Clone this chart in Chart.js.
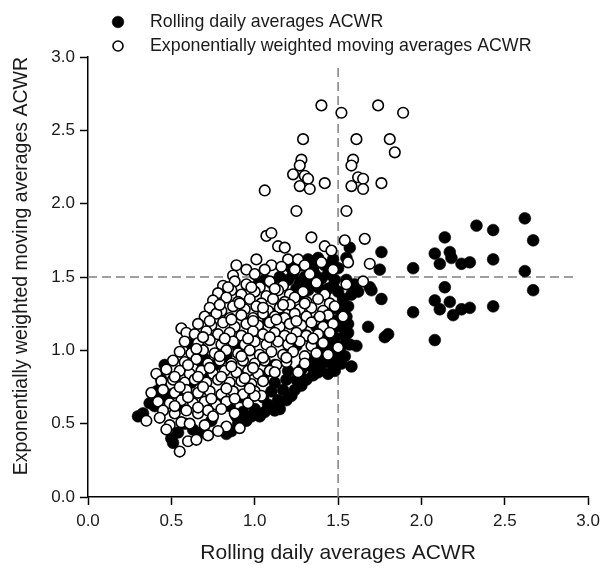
<!DOCTYPE html>
<html><head><meta charset="utf-8">
<script src="https://cdn.jsdelivr.net/npm/chart.js@4.4.1/dist/chart.umd.min.js"></script>
<style>html,body{margin:0;padding:0;background:#fff;}#wrap{width:606px;height:570px;position:relative;}</style>
</head><body><div id="wrap"><canvas id="c" width="606" height="570"></canvas></div>
<script>
const seriesNames = ['Rolling daily averages ACWR', 'Exponentially weighted moving averages ACWR'];
const xTitle = 'Rolling daily averages ACWR';
const yTitle = 'Exponentially weighted moving averages ACWR';
const axisMin = 0, axisMax = 3, axisStep = 0.5;
const cutoff = 1.5;
const refLineEnd = 2.93;

// Rolling daily averages ACWR (filled)
const rollingPoints = [
[2.62,1.90],[2.33,1.85],[2.43,1.82],[2.67,1.75],[2.14,1.77],[1.76,1.67],[2.08,1.66],[2.17,1.67],[2.18,1.63],[2.11,1.59],
[2.24,1.59],[2.29,1.60],[2.43,1.62],[1.75,1.55],[1.95,1.56],[2.62,1.54],[2.67,1.41],[2.14,1.43],[1.76,1.35],[2.08,1.34],
[2.17,1.33],[2.11,1.28],[2.19,1.24],[2.24,1.28],[2.29,1.29],[2.43,1.30],[1.95,1.26],[1.78,1.09],[1.80,1.11],[2.08,1.07],
[1.57,1.70],[1.69,1.43],[1.70,1.41],[1.68,1.16],[1.61,1.03],[1.58,0.89],[1.56,1.12],[1.55,1.48],[1.60,1.45],[1.62,1.40],[1.55,1.63],
[0.30,0.55],[0.37,0.64],[0.41,0.72],[0.44,0.75],[0.46,0.90],[0.44,0.80],[0.51,0.37],[0.54,0.44],[0.50,0.40],[0.33,0.57],
[0.83,0.43],[0.86,0.45],[0.90,0.50],[0.95,0.52],[0.98,0.55],[1.03,0.55],[1.06,0.58],[1.12,0.59],[1.15,0.60],[1.00,0.60],
[1.08,0.63],[1.14,0.66],[1.19,0.66],[1.22,0.69],[1.05,0.68],[1.10,0.72],[1.17,0.73],[1.24,0.73],[1.28,0.76],[1.12,0.78],
[1.19,0.80],[1.25,0.80],[1.31,0.80],[1.35,0.83],[1.38,0.85],[1.44,0.84],[1.48,0.86],[1.20,0.86],[1.28,0.87],[1.34,0.89],
[1.40,0.90],[1.46,0.91],[1.52,0.91],[1.32,0.94],[1.38,0.95],[1.44,0.96],[1.49,0.97],[1.54,0.96],[1.40,1.01],[1.46,1.02],
[1.52,1.03],[1.57,1.04],[1.43,1.08],[1.48,1.09],[1.54,1.10],[1.47,1.15],[1.52,1.16],[1.56,1.18],
[1.50,1.21],[1.55,1.23],[1.51,1.28],[1.56,1.30],[1.53,1.35],[1.58,1.38],[1.50,1.40],[1.47,1.44],
[0.64,0.97],[0.67,1.02],[0.70,0.94],[0.62,1.04],[0.68,0.92],[0.40,0.62],[0.45,0.68],[0.48,0.70],[0.58,0.50],[0.63,0.46],
[0.68,0.44],[0.89,0.55],[0.93,0.58],[0.74,0.52],[0.53,0.61],[0.57,0.70],[0.62,0.78],[0.70,0.85],[0.76,0.90],[0.83,0.96],
[0.90,1.02],[0.96,1.08],[1.02,1.15],[1.08,1.20],[1.14,1.26],[1.20,1.32],[1.26,1.37],[0.85,0.62],[0.92,0.68],[0.98,0.74],
[1.05,0.82],[1.12,0.90],[1.18,0.97],[1.25,1.03],[1.31,1.10],[1.37,1.16],[1.42,1.22],[1.46,1.28],
[1.02,1.45],[1.06,1.48],[1.10,1.46],[1.15,1.50],[1.20,1.48],[1.23,1.52],[1.27,1.46],[1.30,1.50],[1.33,1.47],[1.36,1.52],
[1.40,1.49],[1.44,1.52],[1.48,1.48],[1.22,1.56],[1.28,1.58],[1.35,1.56],[1.42,1.58],[1.47,1.62],[1.50,1.56],[1.38,1.63],
[1.32,1.62],[1.25,1.42],[1.32,1.41],[1.38,1.43],[1.44,1.42]
];

// Exponentially weighted moving averages ACWR (open)
const ewmaPoints = [
[1.40,2.67],[1.52,2.62],[1.74,2.67],[1.89,2.62],[1.29,2.44],[1.61,2.44],[1.81,2.44],[1.84,2.35],[1.28,2.30],[1.27,2.26],
[1.23,2.20],[1.30,2.19],[1.32,2.17],[1.27,2.12],[1.33,2.10],[1.42,2.14],[1.06,2.09],[1.59,2.30],[1.58,2.26],[1.62,2.18],
[1.65,2.17],[1.58,2.12],[1.65,2.10],[1.76,2.14],[1.25,1.95],[1.55,1.95],[1.07,1.78],[1.10,1.80],[1.34,1.77],[1.54,1.75],
[1.66,1.76],[1.14,1.71],[1.18,1.70],[1.42,1.71],[1.46,1.68],[1.69,1.59],[1.65,1.47],[1.55,1.45],[1.56,1.60],
[0.89,1.58],[0.87,1.51],[0.95,1.55],[1.01,1.62],[1.10,1.58],[1.20,1.62],[1.26,1.62],[1.30,1.58],[1.40,1.60],[1.00,1.52],
[1.06,1.55],[1.16,1.57],[1.24,1.55],[1.33,1.52],[1.47,1.55],
[0.81,1.44],[0.88,1.47],[0.95,1.45],[1.03,1.43],[1.09,1.47],[1.17,1.44],[1.37,1.46],
[0.78,1.39],[0.86,1.41],[0.92,1.38],[1.00,1.40],[1.07,1.37],[1.14,1.41],[1.21,1.38],[1.29,1.40],[1.42,1.38],
[0.75,1.34],[0.83,1.36],[0.90,1.33],[0.97,1.35],[1.04,1.32],[1.11,1.35],[1.18,1.33],[1.24,1.36],[1.31,1.33],[1.38,1.35],[1.45,1.32],
[0.73,1.29],[0.80,1.27],[0.87,1.30],[0.94,1.28],[1.01,1.30],[1.08,1.27],[1.15,1.29],[1.21,1.31],[1.27,1.28],[1.34,1.29],[1.41,1.27],[1.48,1.30],
[0.70,1.23],[0.77,1.25],[0.85,1.22],[0.92,1.24],[0.99,1.22],[1.05,1.25],[1.12,1.23],[1.18,1.22],[1.24,1.25],[1.31,1.23],[1.38,1.21],[1.44,1.24],[1.53,1.23],
[0.66,1.18],[0.74,1.17],[0.81,1.19],[0.88,1.16],[0.95,1.18],[1.02,1.17],[1.09,1.19],[1.15,1.16],[1.21,1.18],[1.28,1.17],[1.34,1.19],[1.41,1.16],[1.47,1.18],
[0.56,1.15],[0.59,1.12],[0.64,1.11],[0.71,1.13],[0.78,1.11],[0.85,1.12],[0.92,1.10],[0.99,1.13],[1.05,1.11],[1.12,1.12],[1.18,1.10],[1.25,1.12],[1.31,1.10],[1.38,1.11],[1.45,1.12],
[0.58,1.06],[0.66,1.05],[0.73,1.07],[0.80,1.04],[0.87,1.06],[0.94,1.04],[1.00,1.06],[1.07,1.04],[1.14,1.06],[1.20,1.04],[1.27,1.06],[1.34,1.03],[1.41,1.05],[1.50,1.02],
[0.55,0.99],[0.62,0.98],[0.69,1.00],[0.76,0.98],[0.83,1.00],[0.90,0.98],[0.97,1.00],[1.03,0.97],[1.10,0.99],[1.17,0.97],[1.23,0.99],[1.30,0.96],[1.37,0.98],[1.44,0.97],
[0.51,0.93],[0.58,0.92],[0.65,0.94],[0.72,0.91],[0.79,0.93],[0.86,0.91],[0.93,0.93],[1.00,0.91],[1.06,0.93],[1.13,0.90],[1.19,0.92],[1.30,0.91],
[0.41,0.84],[0.47,0.87],[0.55,0.86],[0.61,0.84],[0.68,0.86],[0.75,0.84],[0.82,0.86],[0.89,0.85],[0.96,0.86],[1.02,0.84],[1.09,0.86],[1.12,0.85],[1.26,0.85],
[0.44,0.79],[0.51,0.80],[0.58,0.78],[0.64,0.80],[0.71,0.78],[0.78,0.80],[0.85,0.78],[0.92,0.79],[0.98,0.77],[1.05,0.79],
[0.38,0.71],[0.45,0.73],[0.52,0.71],[0.59,0.73],[0.66,0.71],[0.73,0.72],[0.80,0.70],[0.87,0.72],[0.93,0.70],[1.00,0.72],[1.04,0.69],
[0.42,0.65],[0.49,0.64],[0.56,0.66],[0.63,0.64],[0.70,0.65],[0.77,0.63],[0.83,0.65],[0.96,0.64],[1.00,0.69],
[0.45,0.59],[0.52,0.57],[0.59,0.59],[0.66,0.57],[0.72,0.59],[0.80,0.60],[0.88,0.57],
[0.35,0.52],[0.43,0.54],[0.49,0.49],[0.56,0.51],[0.61,0.50],[0.70,0.49],[0.75,0.55],[0.83,0.48],[0.91,0.47],
[0.47,0.46],[0.55,0.31],[0.60,0.38],[0.65,0.39],[0.72,0.42],[0.78,0.45],
[0.84,1.43],[0.98,1.43],[1.12,1.42],[0.79,1.31],[0.91,1.32],[1.05,1.29],[1.17,1.31],[1.30,1.32],[0.73,1.20],[0.86,1.21],
[0.99,1.20],[1.13,1.21],[1.25,1.20],[1.39,1.23],[0.69,1.09],[0.82,1.08],[0.96,1.08],[1.09,1.09],[1.22,1.08],[1.35,1.08],
[0.65,1.01],[0.79,0.96],[0.92,0.96],[1.05,0.95],[1.19,0.95],[0.60,0.90],[0.73,0.88],[0.86,0.89],[0.99,0.88],[0.52,0.82],
[0.66,0.82],[0.80,0.82],[0.94,0.81],[0.55,0.75],[0.69,0.75],[0.83,0.74],[0.97,0.74],[0.60,0.68],[0.74,0.67],[0.88,0.67],
[0.52,0.62],[0.66,0.61]
];

const toXY = arr => arr.map(p => ({x: p[0], y: p[1]}));
const textColor = '#1a1a1a';
const fontFam = '"Liberation Sans", Arial, Helvetica, sans-serif';

const legendPlugin = {
  id: 'manualLegend',
  afterDraw(chart) {
    const c = chart.ctx;
    c.save();
    const ds = chart.data.datasets;
    [0, 1].forEach(i => {
      const y = 22 + i * 24;
      c.beginPath();
      c.arc(118, y, i === 0 ? 5.8 : 5.0, 0, Math.PI * 2);
      c.fillStyle = ds[i].backgroundColor;
      c.fill();
      c.lineWidth = ds[i].borderWidth;
      c.strokeStyle = ds[i].borderColor;
      c.stroke();
      c.fillStyle = textColor;
      c.font = '17.8px ' + fontFam;
      c.textBaseline = 'middle';
      c.textAlign = 'left';
      c.fillText(seriesNames[i], 150, y);
    });
    c.restore();
  }
};

new Chart(document.getElementById('c'), {
  type: 'scatter',
  data: {
    datasets: [
      { label: seriesNames[0], data: toXY(rollingPoints), backgroundColor: '#000', borderColor: '#000', borderWidth: 0.6, pointRadius: 5.9, order: 2 },
      { label: seriesNames[1], data: toXY(ewmaPoints), backgroundColor: '#fff', borderColor: '#000', borderWidth: 1.6, pointRadius: 5.3, order: 1 },
      { label: 'v', data: [{x: cutoff, y: axisMin}, {x: cutoff, y: refLineEnd}], showLine: true, pointRadius: 0, borderColor: '#808080', borderWidth: 1.5, borderDash: [9, 5], order: 3 },
      { label: 'h', data: [{x: axisMin, y: cutoff}, {x: refLineEnd, y: cutoff}], showLine: true, pointRadius: 0, borderColor: '#808080', borderWidth: 1.5, borderDash: [9, 5], order: 3 }
    ]
  },
  options: {
    responsive: false,
    animation: false,
    events: [],
    layout: { padding: { top: 57, right: 14, left: 0, bottom: 0 } },
    plugins: { legend: { display: false }, tooltip: { enabled: false } },
    scales: {
      x: {
        type: 'linear', min: axisMin, max: axisMax,
        afterFit: s => { s.height = 73; },
        ticks: { stepSize: axisStep, padding: 6, color: textColor, font: { size: 17, family: fontFam }, callback: v => Number(v).toFixed(1) },
        grid: { display: true, drawOnChartArea: false, drawTicks: true, tickLength: 8, tickWidth: 1.5, tickColor: '#000' },
        border: { display: true, color: '#000', width: 1.5 },
        title: { display: true, text: xTitle, color: textColor, font: { size: 21, family: fontFam }, padding: { top: 0, bottom: 4 } }
      },
      y: {
        type: 'linear', min: axisMin, max: axisMax,
        afterFit: s => { s.width = 88; },
        ticks: { stepSize: axisStep, padding: 5, color: textColor, font: { size: 17, family: fontFam }, callback: v => Number(v).toFixed(1) },
        grid: { display: true, drawOnChartArea: false, drawTicks: true, tickLength: 8, tickWidth: 1.5, tickColor: '#000' },
        border: { display: true, color: '#000', width: 1.5 },
        title: { display: true, text: yTitle, align: 'end', color: textColor, font: { size: 19.5, family: fontFam }, padding: { top: 10, bottom: 0 } }
      }
    }
  },
  plugins: [legendPlugin]
});
</script></body></html>
